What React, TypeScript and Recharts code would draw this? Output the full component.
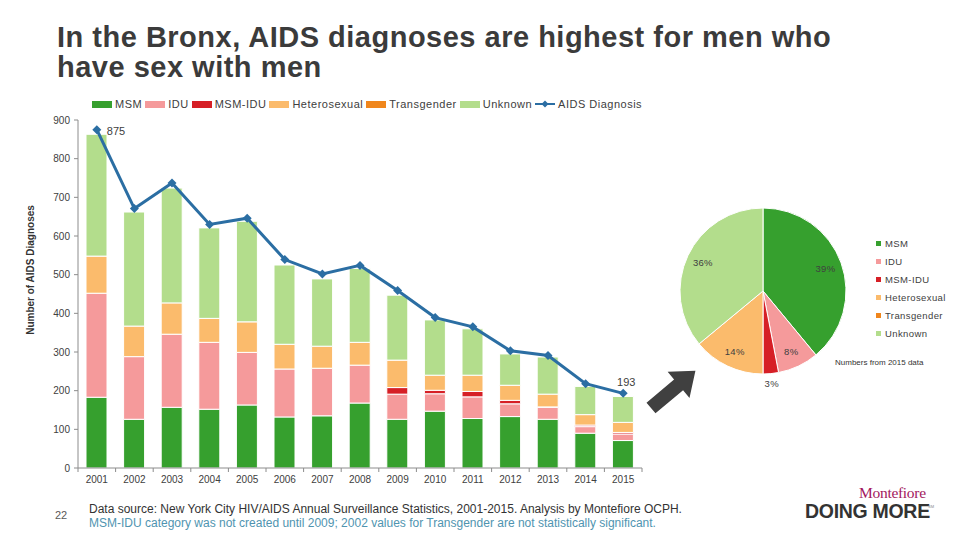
import React from 'react';
import { ComposedChart, Bar, Line, XAxis, YAxis, Legend, LabelList, PieChart, Pie, Cell } from 'recharts';

const years = ['2001', '2002', '2003', '2004', '2005', '2006', '2007', '2008', '2009', '2010', '2011', '2012', '2013', '2014', '2015'];
const msm = [183, 126, 157, 152, 163, 132, 135, 168, 126, 147, 128, 133, 126, 90, 71];
const idu = [269, 162, 189, 173, 136, 124, 123, 98, 65, 45, 56, 33, 31, 17, 17];
const msmIdu = [0, 0, 0, 0, 0, 0, 0, 0, 17, 9, 14, 9, 1, 4, 4];
const hetero = [96, 79, 81, 62, 79, 64, 57, 59, 71, 39, 42, 39, 33, 27, 26];
const transgender = [0, 0, 0, 0, 0, 0, 0, 0, 0, 0, 0, 0, 0, 0, 0];
const unknown = [315, 295, 297, 234, 260, 205, 174, 191, 168, 143, 120, 81, 96, 73, 67];
const aidsDiagnosis = [875, 671, 737, 630, 646, 539, 502, 524, 459, 389, 365, 303, 291, 218, 193];
const yTicks = [0, 100, 200, 300, 400, 500, 600, 700, 800, 900];

const pieCategories = ['MSM', 'IDU', 'MSM-IDU', 'Heterosexual', 'Transgender', 'Unknown'];
const pieShares2015 = [39, 8, 3, 14, 0, 36];
const legendOrder = [...pieCategories, 'AIDS Diagnosis'];

const COLORS: Record<string, string> = {
  MSM: '#36a02e',
  IDU: '#f59a9b',
  'MSM-IDU': '#d61f26',
  Heterosexual: '#fbbb6c',
  Transgender: '#f0861c',
  Unknown: '#b3dd8c',
};
const LINE_COLOR = '#2b6ea3';
const FONT = '"Liberation Sans", Arial, sans-serif';

const data = years.map((y, i) => ({
  year: y,
  MSM: msm[i],
  IDU: idu[i],
  'MSM-IDU': msmIdu[i],
  Heterosexual: hetero[i],
  Transgender: transgender[i],
  Unknown: unknown[i],
  'AIDS Diagnosis': aidsDiagnosis[i],
}));

const pieData = pieCategories.map((c, i) => ({ name: c, value: pieShares2015[i] }));

const CHART_W = 960;
const CHART_H = 540;
const M_LEFT = 40;
const Y_W = 38;
const M_RIGHT = 318;
const PLOT_BOTTOM = 468;
const BAND = (CHART_W - M_LEFT - Y_W - M_RIGHT) / years.length;

const XTick = (props: any) => {
  const { x, y, payload, index } = props;
  return (
    <g>
      <line x1={x - BAND / 2} x2={x - BAND / 2} y1={PLOT_BOTTOM} y2={PLOT_BOTTOM + 4} stroke="#8c8c8c" />
      {index === years.length - 1 && (
        <line x1={x + BAND / 2} x2={x + BAND / 2} y1={PLOT_BOTTOM} y2={PLOT_BOTTOM + 4} stroke="#8c8c8c" />
      )}
      <text x={x} y={y} dy="0.71em" textAnchor="middle" fontSize={10} fill="#404040" fontFamily={FONT}>
        {payload.value}
      </text>
    </g>
  );
};

const Diamond = (props: any) => {
  const { cx, cy } = props;
  if (cx == null || cy == null) return null;
  const s = 4.5;
  return <polygon points={`${cx},${cy - s} ${cx + s},${cy} ${cx},${cy + s} ${cx - s},${cy}`} fill={LINE_COLOR} />;
};

const PointLabel = (props: any) => {
  const { x, y, value, index } = props;
  if (index === 0) {
    return (
      <text x={x + 10} y={y + 5} fontSize={11} fill="#404040" fontFamily={FONT}>
        {value}
      </text>
    );
  }
  if (index === years.length - 1) {
    return (
      <text x={x + 3} y={y - 7} textAnchor="middle" fontSize={11} fill="#404040" fontFamily={FONT}>
        {value}
      </text>
    );
  }
  return null;
};

const byOrder = (payload: any[]) =>
  [...(payload || [])].sort((a, b) => legendOrder.indexOf(a.value) - legendOrder.indexOf(b.value));

const MainLegend = (props: any) => {
  const items = byOrder(props.payload);
  return (
    <div style={{ display: 'flex', alignItems: 'center', fontFamily: FONT, fontSize: 11, letterSpacing: 0.5, color: '#404040', whiteSpace: 'nowrap' }}>
      {items.map((p: any) => (
        <div key={p.value} style={{ display: 'flex', alignItems: 'center', marginRight: 3 }}>
          {p.type === 'line' ? (
            <svg width={20} height={10} style={{ marginRight: 3 }}>
              <line x1={0} x2={20} y1={5} y2={5} stroke={LINE_COLOR} strokeWidth={2} />
              <polygon points="10,1.5 13.5,5 10,8.5 6.5,5" fill={LINE_COLOR} />
            </svg>
          ) : (
            <div style={{ width: 20, height: 7, background: p.color, marginRight: 3 }} />
          )}
          <span>{p.value}</span>
        </div>
      ))}
    </div>
  );
};

const PieLegend = (props: any) => {
  const items = byOrder(props.payload);
  return (
    <div style={{ fontFamily: FONT, fontSize: 9.5, color: '#404040', letterSpacing: 0.4 }}>
      {items.map((p: any) => (
        <div key={p.value} style={{ display: 'flex', alignItems: 'center', height: 18 }}>
          <div style={{ width: 5, height: 5, background: p.color, marginRight: 4 }} />
          <span>{p.value}</span>
        </div>
      ))}
    </div>
  );
};

const RADIAN = Math.PI / 180;
const PieLabel = (props: any) => {
  const { cx, cy, midAngle, outerRadius, value } = props;
  if (!value) return null;
  const r = value < 5 ? outerRadius + 10 : outerRadius * 0.8;
  const x = cx + r * Math.cos(-midAngle * RADIAN);
  const y = cy + r * Math.sin(-midAngle * RADIAN);
  return (
    <text x={x} y={y} dy={3.5} textAnchor="middle" fontSize={9.5} fill="#404040" fontFamily={FONT} letterSpacing={0.3}>
      {`${value}%`}
    </text>
  );
};

export default function App() {
  return (
    <div style={{ position: 'absolute', left: 0, top: 0, width: 960, height: 540, background: '#fff', fontFamily: FONT, overflow: 'hidden' }}>
      <div style={{ position: 'absolute', left: 57, top: 22, fontSize: 29, letterSpacing: 0.5, fontWeight: 'bold', lineHeight: '30px', color: '#3b3b3b', width: 900, whiteSpace: 'nowrap' }}>
        In the Bronx, AIDS diagnoses are highest for men who
        <br />
        have sex with men
      </div>

      <div style={{ position: 'absolute', left: 0, top: 0 }}>
        <ComposedChart
          width={CHART_W}
          height={CHART_H}
          data={data}
          margin={{ top: 120, right: M_RIGHT, bottom: 42, left: M_LEFT }}
          barSize={21}
        >
          <XAxis
            dataKey="year"
            height={30}
            tickLine={false}
            axisLine={{ stroke: '#8c8c8c' }}
            tick={<XTick />}
            interval={0}
          />
          <YAxis
            width={Y_W}
            domain={[0, 900]}
            ticks={yTicks}
            interval={0}
            tickSize={4}
            tickMargin={4}
            tickLine={{ stroke: '#8c8c8c' }}
            axisLine={{ stroke: '#8c8c8c' }}
            tick={{ fontSize: 10, fill: '#404040', fontFamily: FONT }}
          />
          <Legend
            layout="horizontal"
            verticalAlign="middle"
            align="center"
            content={<MainLegend />}
            wrapperStyle={{ position: 'absolute', top: 98, left: 92, width: 620, height: 14 }}
          />
          {pieCategories.map((c) => (
            <Bar key={c} dataKey={c} stackId="a" fill={COLORS[c]} stroke="#fff" strokeWidth={1} isAnimationActive={false} legendType="rect" />
          ))}
          <Line
            dataKey="AIDS Diagnosis"
            type="linear"
            stroke={LINE_COLOR}
            strokeWidth={3}
            dot={<Diamond />}
            activeDot={false}
            legendType="line"
            isAnimationActive={false}
          >
            <LabelList dataKey="AIDS Diagnosis" content={<PointLabel />} />
          </Line>
        </ComposedChart>
      </div>

      <div
        style={{
          position: 'absolute',
          left: 30,
          top: 270,
          transform: 'translate(-50%, -50%) rotate(-90deg)',
          fontSize: 10,
          fontWeight: 'bold',
          color: '#333',
          whiteSpace: 'nowrap',
        }}
      >
        Number of AIDS Diagnoses
      </div>

      <div style={{ position: 'absolute', left: 658, top: 186 }}>
        <PieChart width={300} height={225}>
          <Pie
            data={pieData}
            dataKey="value"
            nameKey="name"
            cx={100}
            cy={100}
            outerRadius={83}
            startAngle={90}
            endAngle={-270}
            stroke="#fff"
            strokeWidth={1}
            label={PieLabel}
            labelLine={false}
            isAnimationActive={false}
          >
            {pieData.map((d) => (
              <Cell key={d.name} fill={COLORS[d.name]} />
            ))}
          </Pie>
          <Legend
            layout="horizontal"
            verticalAlign="middle"
            align="center"
            content={<PieLegend />}
            wrapperStyle={{ position: 'absolute', left: 218, top: 48, width: 90, height: 110 }}
          />
        </PieChart>
      </div>

      <div style={{ position: 'absolute', left: 835, top: 358, fontSize: 8, color: '#333', whiteSpace: 'nowrap' }}>
        Numbers from 2015 data
      </div>

      <svg style={{ position: 'absolute', left: 0, top: 0 }} width={960} height={540} pointerEvents="none">
        <g transform="translate(651,408) rotate(-40)">
          <polygon points="0,-7 36,-7 36,-17 58,0 36,17 36,7 0,7" fill="#404040" />
        </g>
      </svg>

      <div style={{ position: 'absolute', left: 55, top: 509, fontSize: 11, color: '#595959' }}>22</div>
      <div style={{ position: 'absolute', left: 89, top: 502, fontSize: 12, lineHeight: '14px', color: '#333', whiteSpace: 'nowrap' }}>
        Data source: New York City HIV/AIDS Annual Surveillance Statistics, 2001-2015. Analysis by Montefiore OCPH.
      </div>
      <div style={{ position: 'absolute', left: 89, top: 516, fontSize: 12, lineHeight: '14px', color: '#4f94b0', whiteSpace: 'nowrap' }}>
        MSM-IDU category was not created until 2009; 2002 values for Transgender are not statistically significant.
      </div>

      <div style={{ position: 'absolute', left: 859, top: 484, fontSize: 15.5, letterSpacing: -0.3, fontFamily: '"Liberation Serif", "DejaVu Serif", serif', color: '#a3185e', whiteSpace: 'nowrap' }}>
        Montefiore
      </div>
      <div style={{ position: 'absolute', left: 805, top: 500, fontSize: 19.5, lineHeight: '23px', fontWeight: 'bold', color: '#333', whiteSpace: 'nowrap', letterSpacing: -0.3 }}>
        DOING MORE
      </div>
      <div style={{ position: 'absolute', left: 928, top: 504, fontSize: 4, color: '#888' }}>SM</div>
    </div>
  );
}
